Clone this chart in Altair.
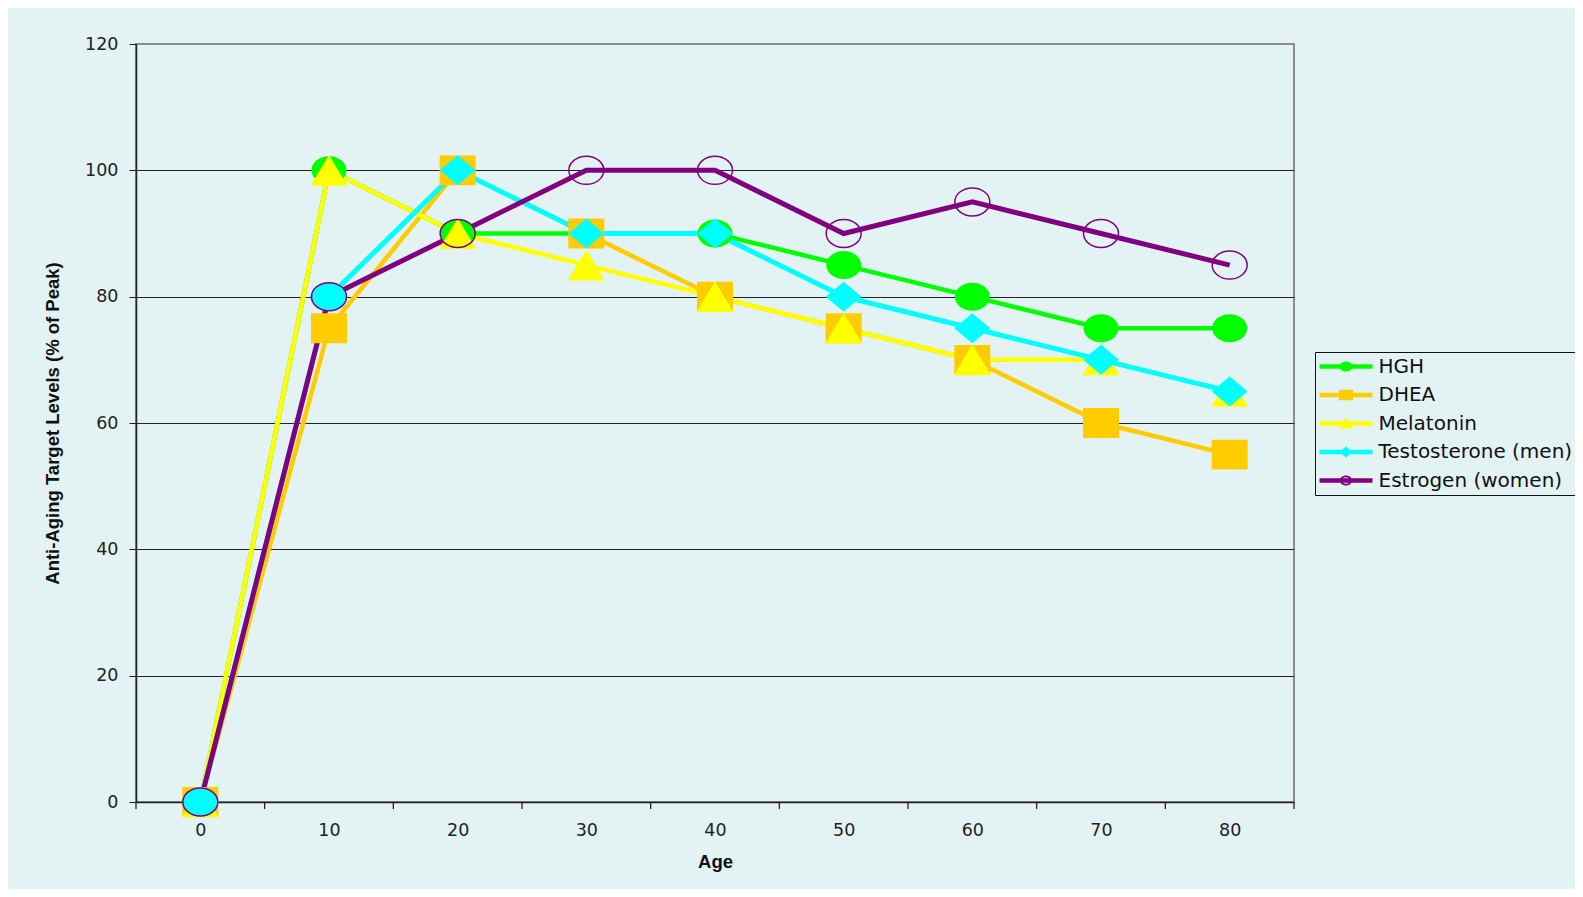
import altair as alt
import pandas as pd

# ---- data ----
ages = [0, 10, 20, 30, 40, 50, 60, 70, 80]
series_names = ["HGH", "DHEA", "Melatonin", "Testosterone (men)", "Estrogen (women)"]
hgh = [0, 100, 90, 90, 90, 85, 80, 75, 75]
dhea = [0, 75, 100, 90, 80, 75, 70, 60, 55]
melatonin = [0, 100, 90, 85, 80, 75, 70, 70, 65]
testosterone = [0, 80, 100, 90, 90, 80, 75, 70, 65]
estrogen = [0, 80, 90, 100, 100, 90, 95, 90, 85]
y_ticks = [0, 20, 40, 60, 80, 100, 120]
category_bounds = [-5, 5, 15, 25, 35, 45, 55, 65, 75, 85]

colors = ["#00FF00", "#FFCC00", "#FFFF00", "#00FFFF", "#800080"]
values = [hgh, dhea, melatonin, testosterone, estrogen]

rows = []
for name, vals in zip(series_names, values):
    for a, v in zip(ages, vals):
        rows.append({"age": a, "value": v, "series": name})
df = pd.DataFrame(rows)
bounds_df = pd.DataFrame({"b": category_bounds})

BG = "#E3F2F2"
W, H = 1158, 758

# marker shapes (Excel markers look slightly stretched horizontally)
ELL = "M-1,0A1,0.8,0,1,1,1,0A1,0.8,0,1,1,-1,0Z"
SQR = "M-1,-0.83H1V0.83H-1Z"
TRI = "M0,-0.83L1,0.83H-1Z"
DIA = "M0,-0.83L1,0L0,0.83L-1,0Z"

# legend symbols: line segment + small marker (unit = 10px, spans -1..4.3)
LINE = "M-1,-0.22H4.3V0.22H-1Z "
C = 1.65
leg_shapes = [
    LINE + f"M{C-0.65},0A0.65,0.5,0,1,1,{C+0.65},0A0.65,0.5,0,1,1,{C-0.65},0Z",
    LINE + f"M{C-0.7},-0.52H{C+0.7}V0.52H{C-0.7}Z",
    LINE + f"M{C},-0.55L{C+0.72},0.5H{C-0.72}Z",
    LINE + f"M{C},-0.55L{C+0.65},0L{C},0.55L{C-0.65},0Z",
    LINE + f"M{C-0.62},0A0.62,0.5,0,1,1,{C+0.62},0A0.62,0.5,0,1,1,{C-0.62},0Z "
    f"M{C-0.45},0A0.45,0.32,0,1,0,{C+0.45},0A0.45,0.32,0,1,0,{C-0.45},0Z",
]

x_enc = alt.X(
    "age:Q",
    scale=alt.Scale(domain=[-5, 85], nice=False, zero=False),
    axis=alt.Axis(
        values=ages, ticks=False, grid=False, title="Age",
        labelFont="DejaVu Sans", labelFontSize=17.5, labelColor="#222",
        labelPadding=19, domainColor="#222", domainWidth=1.5,
        titleFont="Liberation Sans", titleFontSize=18.5, titleFontWeight="bold",
        titleColor="#111", titlePadding=14,
    ),
)
y_enc = alt.Y(
    "value:Q",
    scale=alt.Scale(domain=[0, 120], nice=False),
    axis=alt.Axis(
        values=y_ticks, grid=True,
        gridColor={"condition": {"test": "datum.value >= 120", "value": "#8C8C8C"}, "value": "#222"},
        gridWidth=1.2, tickSize=7, tickColor="#222", domainColor="#222", domainWidth=1.5,
        labelFont="DejaVu Sans", labelFontSize=17.5, labelColor="#222", labelPadding=11,
        title="Anti-Aging Target Levels (% of Peak)",
        titleFont="Liberation Sans", titleFontSize=18.5, titleFontWeight="bold",
        titleColor="#111", titlePadding=22,
    ),
)

base = alt.Chart(df)

line_widths = [4.5, 4.5, 4.5, 5, 5]
lines = [
    base.transform_filter(alt.datum.series == name)
    .mark_line(color=c, strokeWidth=lw)
    .encode(x=x_enc, y=y_enc, order="age:Q")
    for name, c, lw in zip(series_names, colors, line_widths)
]

points = []
points.append(base.transform_filter(alt.datum.series == "HGH")
              .mark_point(shape=ELL, size=1225, filled=True, color=colors[0], opacity=1)
              .encode(x=x_enc, y=y_enc))
points.append(base.transform_filter(alt.datum.series == "DHEA")
              .mark_point(shape=SQR, size=1296, filled=True, color=colors[1], opacity=1)
              .encode(x=x_enc, y=y_enc))
points.append(base.transform_filter(alt.datum.series == "Melatonin")
              .mark_point(shape=TRI, size=1369, filled=True, color=colors[2], opacity=1)
              .encode(x=x_enc, y=y_enc))
points.append(base.transform_filter(alt.datum.series == "Testosterone (men)")
              .mark_point(size=1300, filled=True, color=colors[3], opacity=1)
              .encode(x=x_enc, y=y_enc,
                      shape=alt.condition("datum.age <= 10", alt.value(ELL), alt.value(DIA))))
points.append(base.transform_filter(alt.datum.series == "Estrogen (women)")
              .mark_point(shape=ELL, size=1225, filled=False, color=colors[4],
                          strokeWidth=1.5, opacity=1)
              .encode(x=x_enc, y=y_enc))

separators = alt.Chart(bounds_df).mark_rule(color="#222", strokeWidth=1.3).encode(
    x=alt.X("b:Q", scale=alt.Scale(domain=[-5, 85], nice=False, zero=False)),
    y=alt.value(H), y2=alt.value(H + 7),
)

leg = alt.Legend(
    title=None, orient="none", legendX=1179, legendY=308,
    symbolSize=400, symbolStrokeWidth=0, labelOffset=39,
    labelFont="DejaVu Sans", labelFontSize=20, labelColor="#111",
    labelLimit=400, strokeColor="#111", fillColor=BG,
    padding=4.5, rowPadding=8.5,
)

legend_layer = base.transform_filter("false").mark_point(filled=True, opacity=1).encode(
    x=x_enc, y=y_enc,
    color=alt.Color("series:N", scale=alt.Scale(domain=series_names, range=colors), legend=leg),
    shape=alt.Shape("series:N", scale=alt.Scale(domain=series_names, range=leg_shapes), legend=leg),
)

chart = alt.layer(separators, *lines, *points, legend_layer).properties(
    width=W, height=H,
    autosize=alt.AutoSizeParams(type="none"),
    padding={"left": 128, "top": 36, "right": 281, "bottom": 87},
    background=BG,
).configure_view(stroke="#8C8C8C", strokeWidth=2)

chart.save("out.html", embed_options={"renderer": "svg", "actions": False})
